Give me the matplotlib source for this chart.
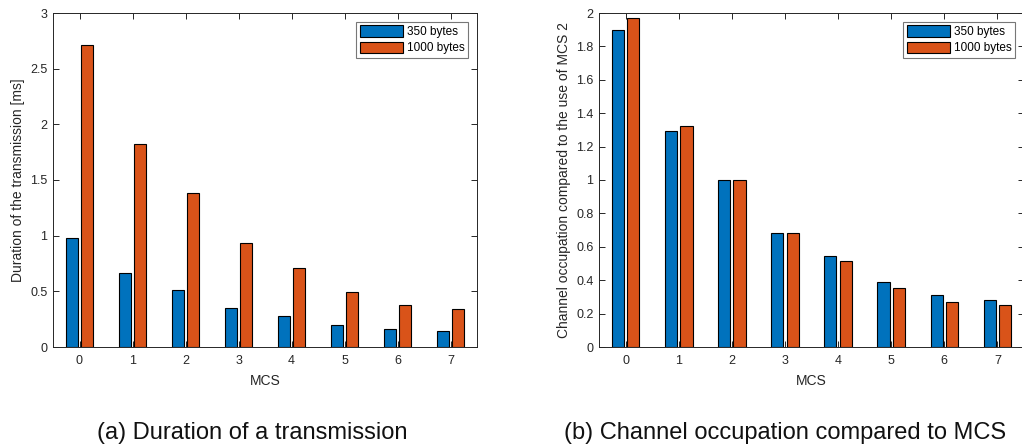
import matplotlib.pyplot as plt
import numpy as np

plt.rcParams['font.family'] = ['Liberation Sans', 'DejaVu Sans']

mcs = [0, 1, 2, 3, 4, 5, 6, 7]
series_labels = ['350 bytes', '1000 bytes']

# (a) duration of the transmission [ms]
dur_350 = [0.98, 0.665, 0.51, 0.35, 0.28, 0.195, 0.16, 0.145]
dur_1000 = [2.71, 1.82, 1.38, 0.935, 0.71, 0.49, 0.375, 0.34]

# (b) channel occupation relative to MCS 2
occ_350 = [1.90, 1.295, 1.0, 0.685, 0.545, 0.39, 0.31, 0.28]
occ_1000 = [1.97, 1.325, 1.0, 0.68, 0.515, 0.355, 0.27, 0.25]

BLUE = '#0072BD'
ORANGE = '#D95319'
DARK = '#262626'


def draw_panel(ax, a, b, ylim, yticks, ylabel):
    x = np.array(mcs)
    w = 0.23
    off = 0.145
    ax.bar(x - off, a, w, color=BLUE, edgecolor='black', linewidth=0.8, label=series_labels[0])
    ax.bar(x + off, b, w, color=ORANGE, edgecolor='black', linewidth=0.8, label=series_labels[1])
    ax.set_xlim(-0.5, 7.5)
    ax.set_ylim(*ylim)
    ax.set_xticks(mcs)
    ax.set_yticks(yticks)
    ax.set_yticklabels([f'{t:g}' for t in yticks])
    ax.tick_params(direction='in', top=True, right=True, length=4, width=0.7,
                   labelsize=9, colors=DARK, labelcolor=DARK)
    ax.tick_params(axis='x', pad=6)
    ax.tick_params(axis='y', pad=4)
    for s in ax.spines.values():
        s.set_color(DARK)
        s.set_linewidth(0.7)
    ax.set_xlabel('MCS', fontsize=10, color=DARK, labelpad=5)
    ax.set_ylabel(ylabel, fontsize=10, color=DARK, labelpad=4)
    leg = ax.legend(loc='upper right', fontsize=8.5, handlelength=3.7, handleheight=1.1,
                    frameon=True, fancybox=False, edgecolor='#555555',
                    borderaxespad=0.75, handletextpad=0.3, borderpad=0.3, labelspacing=0.3)
    leg.get_frame().set_linewidth(0.8)


fig = plt.figure(figsize=(10.22, 4.45), dpi=100)

ax1 = fig.add_axes([53 / 1022, 1 - 347 / 445, 424 / 1022, 334 / 445])
draw_panel(ax1, dur_350, dur_1000, (0, 3), np.arange(0, 3.01, 0.5),
           'Duration of the transmission [ms]')

ax2 = fig.add_axes([599 / 1022, 1 - 347 / 445, 425 / 1022, 334 / 445])
draw_panel(ax2, occ_350, occ_1000, (0, 2), np.round(np.arange(0, 2.01, 0.2), 1),
           'Channel occupation compared to the use of MCS 2')

fig.text(252 / 1022, 1 - 439 / 445, '(a) Duration of a transmission',
         ha='center', va='baseline', fontsize=17, color='#111111')
fig.text(785 / 1022, 1 - 439 / 445, '(b) Channel occupation compared to MCS',
         ha='center', va='baseline', fontsize=17, color='#111111')

fig.savefig('out.png', dpi=100)
